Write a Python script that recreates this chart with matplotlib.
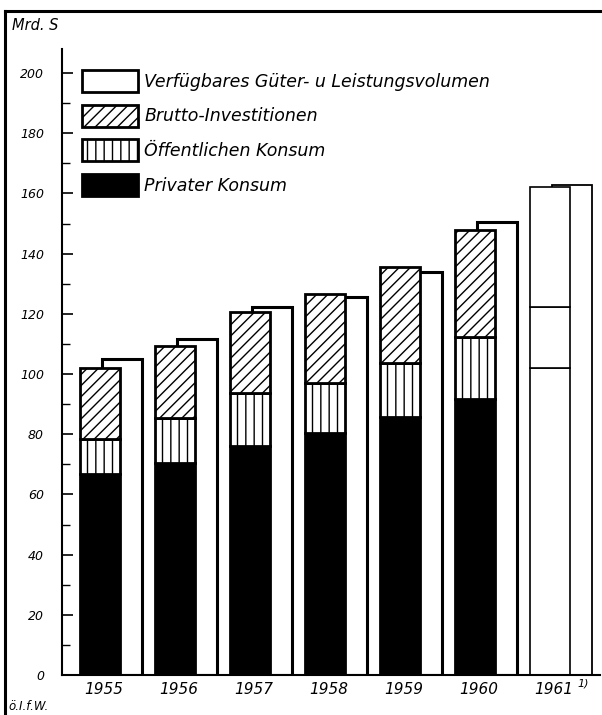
import numpy as np
import matplotlib
matplotlib.use('Agg')
import matplotlib.pyplot as plt
from matplotlib.patches import Patch
from matplotlib.lines import Line2D

years = ['1955', '1956', '1957', '1958', '1959', '1960', '1961']
privat = [66.7, 70.4, 76.0, 80.4, 85.7, 91.7]
oeffentlich = [11.7, 15.0, 17.7, 16.6, 18.0, 20.6]
investition = [23.6, 23.9, 26.9, 29.6, 31.9, 35.5]
verfuegbar = [105.0, 111.6, 122.3, 125.6, 134.0, 150.5, 162.8]
# 1961: nur Gesamtbalken mit Teilstrichen
stufen_1961 = [102.0, 122.3, 162.0]

plt.rcParams['font.family'] = 'DejaVu Sans'
plt.rcParams['font.style'] = 'italic'
plt.rcParams['hatch.linewidth'] = 1.0

fig = plt.figure(figsize=(6.02, 7.15), dpi=100)
ax = fig.add_axes([62/602, 1-675/715, 538/602, 626/715])

x = np.arange(len(years))
w = 0.533
off = 0.293

# hintere Balken (verfuegbares Volumen)
ax.bar(x[:6] + off, verfuegbar[:6], w, color='white', edgecolor='black', lw=2.2, zorder=1)
ax.bar(x[6] + off, verfuegbar[6], w, color='white', edgecolor='black', lw=1.3, zorder=1)

# vordere gestapelte Balken
p = np.array(privat)
o = np.array(oeffentlich)
ax.bar(x[:6], privat, w, color='black', edgecolor='black', lw=2, zorder=2)
ax.bar(x[:6], oeffentlich, w, bottom=p, color='white', edgecolor='black', lw=2, hatch='||', zorder=2)
ax.bar(x[:6], investition, w, bottom=p + o, color='white', edgecolor='black', lw=2, hatch='///', zorder=2)

# 1961
b = [0] + stufen_1961[:-1]
h = np.diff([0] + stufen_1961)
ax.bar([x[6]] * 3, h, w, bottom=b, color='white', edgecolor='black', lw=1.2, zorder=2)

ax.set_xlim(-0.507, 6.667)
ax.set_ylim(0, 208)
ax.spines['top'].set_visible(False)
ax.spines['right'].set_visible(False)
ax.spines['left'].set_linewidth(1.5)
ax.spines['bottom'].set_linewidth(1.5)

ax.set_yticks(np.arange(0, 201, 20))
ax.set_yticks(np.arange(10, 200, 20), minor=True)
ax.tick_params(axis='y', which='major', direction='in', length=8, width=1.2, pad=13, labelsize=9)
ax.tick_params(axis='y', which='minor', direction='in', length=6, width=1.0)
ax.set_xticks(x + 0.05)
ax.set_xticklabels(years, fontsize=11)
ax.tick_params(axis='x', length=0, pad=5)

fig.text(583/602, 1-683/715, '1)', fontsize=8, ha='center', va='center')
fig.text(12/602, 1-25/715, 'Mrd. S', fontsize=10.5, va='center')
fig.text(8/602, 1-706/715, 'ö.I.f.W.', fontsize=8.5, va='center')

handles = [
    Patch(facecolor='white', edgecolor='black', lw=2, label='Verfügbares Güter- u Leistungsvolumen'),
    Patch(facecolor='white', edgecolor='black', lw=2, hatch='///', label='Brutto-Investitionen'),
    Patch(facecolor='white', edgecolor='black', lw=2, hatch='||', label='Öffentlichen Konsum'),
    Patch(facecolor='black', edgecolor='black', lw=2, label='Privater Konsum'),
]
ax.legend(handles=handles, loc='upper left', bbox_to_anchor=(82/602, 1-70/715),
          bbox_transform=fig.transFigure, frameon=False, fontsize=12.5,
          handlelength=3.2, handleheight=1.56, labelspacing=0.74, handletextpad=0.4,
          borderpad=0, borderaxespad=0)

# Rahmen links und oben
fig.add_artist(Line2D([5/602, 5/602], [0, 1-11/715], color='black', lw=2.2, transform=fig.transFigure))
fig.add_artist(Line2D([5/602, 1], [1-11/715, 1-11/715], color='black', lw=2.2, transform=fig.transFigure))

fig.savefig('out.png', dpi=100)
